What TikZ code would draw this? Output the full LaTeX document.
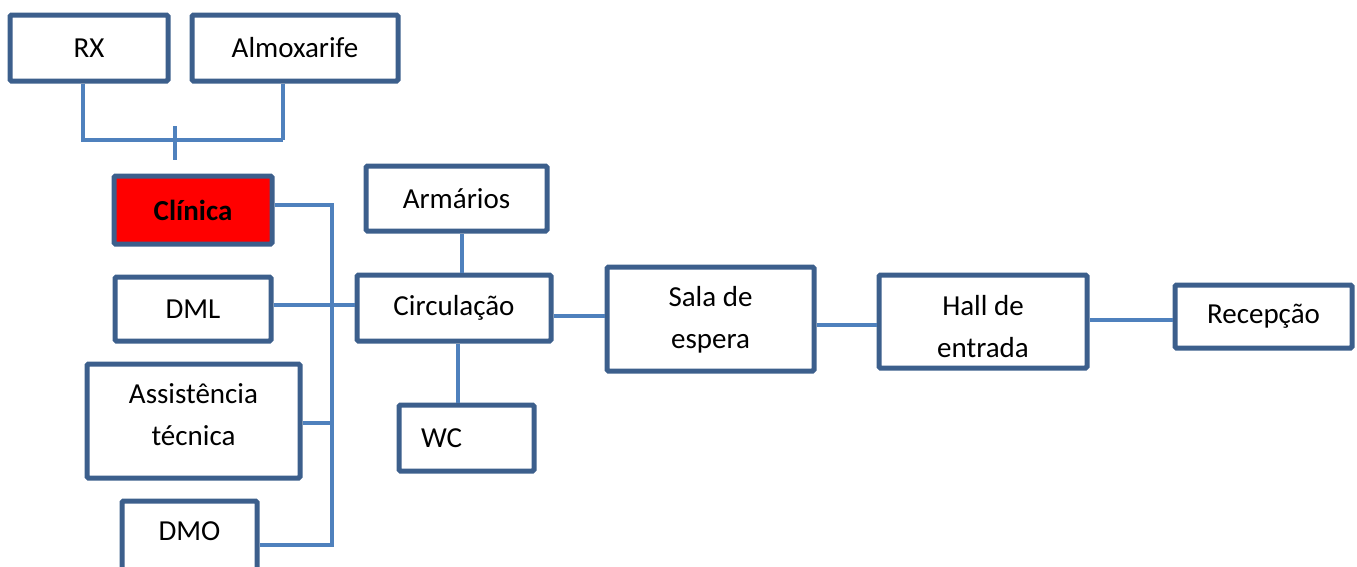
\documentclass[tikz,border=0pt]{standalone}
\usepackage{fontspec}
\setmainfont{Carlito}
\definecolor{boxblue}{RGB}{60,95,140}
\definecolor{lineblue}{RGB}{79,129,189}
\definecolor{clinred}{RGB}{255,0,0}
\begin{document}
\begin{tikzpicture}[x=1pt,y=-1pt,
  box/.style={draw=boxblue,line width=5pt,rounded corners=1.5pt,fill=white,inner sep=0pt,
    font=\fontsize{29}{42}\selectfont,align=center},
  lbl/.style={font=\fontsize{29}{42}\selectfont,align=center,inner sep=0pt},
  conn/.style={draw=lineblue,line width=3.2pt}]
\useasboundingbox (0,0) rectangle (1357,566);
% boxes
\node[box,minimum width=158pt,minimum height=66pt] (rx) at (89,48) {RX};
\node[box,minimum width=206pt,minimum height=66pt] (almox) at (295,48) {Almoxarife};
\node[box,fill=clinred,minimum width=158pt,minimum height=68pt,font=\fontsize{29}{42}\selectfont\bfseries] (clin) at (193,210) {Clínica};
\node[box,minimum width=181pt,minimum height=65pt] (arm) at (456.5,198.5) {Armários};
\node[box,minimum width=156pt,minimum height=64pt] (dml) at (193,309) {DML};
\node[box,minimum width=194pt,minimum height=66pt] (circ) at (454,308) {Circulação};
\node[box,minimum width=213pt,minimum height=114pt,
  label={[lbl,yshift=6pt]center:Assistência\\técnica}] (assist) at (193.5,421) {};
\node[box,minimum width=135pt,minimum height=70pt,
  label={[lbl,yshift=5pt]center:DMO}] (dmo) at (189.5,536) {};
\node[box,minimum width=135pt,minimum height=66pt] (wc) at (466.5,438) {\hspace*{-50pt}WC};
\node[box,minimum width=207pt,minimum height=104pt,
  label={[lbl,yshift=-1pt]center:Sala de\\espera}] (sala) at (710.5,319) {};
\node[box,minimum width=208pt,minimum height=93pt,
  label={[lbl,yshift=-5pt]center:Hall de\\entrada}] (hall) at (983,321.5) {};
\node[box,minimum width=177pt,minimum height=63pt] (rec) at (1263.5,316.5) {Recepção};
% junction coordinates
\coordinate (topbus) at (283,140);
\coordinate (ticktop) at (175,126);
\coordinate (tickbot) at (175,160);
\coordinate (vbus) at (332,205);
\coordinate (vbusbot) at (332,545);
% connectors
\draw[conn] ([xshift=-6pt]rx.south) |- (topbus);
\draw[conn] ([xshift=-12pt]almox.south) -- (topbus);
\draw[conn] (ticktop) -- (tickbot);
\draw[conn] ([yshift=5pt]clin.east) -- (vbus) -- (vbusbot) -- (dmo.east |- vbusbot);
\draw[conn] ([yshift=-2pt]assist.east) -- ([yshift=-2pt]assist.east -| vbus);
\draw[conn] ([yshift=4pt]dml.east) -- ([yshift=4pt]dml.east -| circ.west);
\draw[conn] ([xshift=5.5pt]arm.south) -- ([xshift=5.5pt]arm.south |- circ.north);
\draw[conn] ([xshift=4pt]circ.south) -- ([xshift=4pt]circ.south |- wc.north);
\draw[conn] ([yshift=-8pt]circ.east) -- ([yshift=-8pt]circ.east -| sala.west);
\draw[conn] ([yshift=-6pt]sala.east) -- ([yshift=-6pt]sala.east -| hall.west);
\draw[conn] ([yshift=1.5pt]hall.east) -- ([yshift=1.5pt]hall.east -| rec.west);
\end{tikzpicture}
\end{document}
